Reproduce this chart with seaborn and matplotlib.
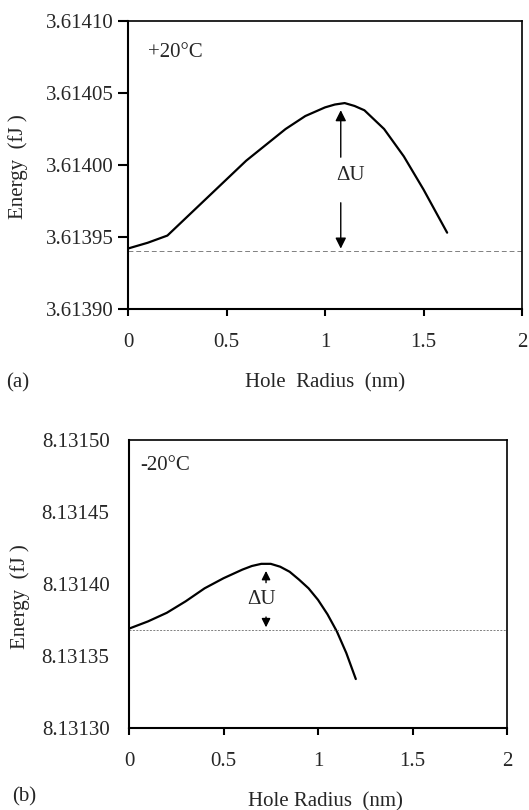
import matplotlib
matplotlib.use("Agg")
import matplotlib.pyplot as plt
import seaborn as sns
import pandas as pd

# top panel (+20 C)
radius_a = [0, 0.1, 0.2, 0.3, 0.4, 0.5, 0.6, 0.7, 0.8, 0.9, 1.0, 1.05, 1.1, 1.15, 1.2,
            1.3, 1.4, 1.5, 1.62]
energy_a = [3.613942, 3.613946, 3.613951, 3.613964, 3.613977, 3.613990, 3.614003, 3.614014,
            3.614025, 3.614034, 3.614040, 3.614042, 3.614043, 3.614041, 3.614038,
            3.614025, 3.614006, 3.613983, 3.613953]
base_a = 3.61394

# bottom panel (-20 C)
radius_b = [0, 0.1, 0.2, 0.3, 0.4, 0.5, 0.6, 0.65, 0.7, 0.75, 0.8, 0.85, 0.9, 0.95,
            1.0, 1.05, 1.1, 1.15, 1.2]
energy_b = [8.131369, 8.131374, 8.131380, 8.131388, 8.131397, 8.131404, 8.131410, 8.1314125,
            8.131414, 8.131414, 8.131412, 8.1314085, 8.131403, 8.131397,
            8.131389, 8.131379, 8.131367, 8.131352, 8.131334]
base_b = 8.131368

xticks = [0, 0.5, 1, 1.5, 2]
xticklabels = ["0", "0.5", "1", "1.5", "2"]
yticks_a = [3.61390, 3.61395, 3.61400, 3.61405, 3.61410]
yticks_b = [8.13130, 8.13135, 8.13140, 8.13145, 8.13150]

sns.set_style("ticks")
plt.rcParams["font.family"] = ["Liberation Serif", "DejaVu Serif"]

fig = plt.figure(figsize=(5.29, 8.10), dpi=100)
W, H = 529, 810

ax1 = fig.add_axes([128 / W, 1 - 309 / H, (522 - 128) / W, 288 / H])
ax2 = fig.add_axes([129 / W, 1 - 728 / H, (507 - 129) / W, 288 / H])

df_a = pd.DataFrame({"r": radius_a, "e": energy_a})
df_b = pd.DataFrame({"r": radius_b, "e": energy_b})
sns.lineplot(x="r", y="e", data=df_a, ax=ax1, color="black", linewidth=1.6)
sns.lineplot(x="r", y="e", data=df_b, ax=ax2, color="black", linewidth=1.6)

ax1.axhline(base_a, color="gray", linestyle=(0, (5, 3)), linewidth=0.7)
ax2.axhline(base_b, color="gray", linestyle=(0, (2, 1.5)), linewidth=0.7)

for ax, yt in [(ax1, yticks_a), (ax2, yticks_b)]:
    ax.set_xlim(0, 2)
    ax.set_ylim(yt[0], yt[-1])
    ax.set_xticks(xticks)
    ax.set_xticklabels(xticklabels)
    ax.set_yticks(yt)
    ax.set_yticklabels(["%.5f" % v for v in yt])
    ax.set_xlabel("")
    ax.set_ylabel("")
    ax.tick_params(axis="both", labelsize=15, color="black", width=1.5)
    ax.tick_params(axis="x", length=5, pad=12)
    for s in ax.spines.values():
        s.set_color("black")
        s.set_linewidth(1.5)
    ax.spines["top"].set_linewidth(1.2)
    ax.spines["right"].set_linewidth(1.2)

ax1.tick_params(axis="y", length=7, pad=3)
ax2.tick_params(axis="y", length=0, pad=14)

# delta U arrows, top
arrow = dict(arrowstyle="-|>", color="black", lw=1.0, mutation_scale=16)
ax1.annotate("", xy=(1.08, 3.614040), xytext=(1.08, 3.6140035), arrowprops=arrow)
ax1.annotate("", xy=(1.08, base_a), xytext=(1.08, 3.6139757), arrowprops=arrow)
ax1.text(1.055, 3.613993, "ΔU", fontsize=15, va="center", ha="left")
ax1.text(0.05, 0.89, "+20°C", transform=ax1.transAxes, fontsize=15, va="center")

# delta U arrows, bottom
arrow_b = dict(arrowstyle="-|>", color="black", lw=1.0, mutation_scale=13)
ax2.annotate("", xy=(0.725, 8.131411), xytext=(0.725, 8.131399), arrowprops=arrow_b)
ax2.annotate("", xy=(0.725, base_b), xytext=(0.725, 8.131379), arrowprops=arrow_b)
ax2.text(0.70, 8.131389, "ΔU", fontsize=15, va="center", ha="center")
ax2.text(0.03, 0.91, "-20°C", transform=ax2.transAxes, fontsize=15, va="center")

# axis titles and panel letters
fig.text(18 / W, 1 - 167 / H, "Energy  (fJ )", rotation=90, fontsize=15, ha="center", va="center")
fig.text(20 / W, 1 - 597 / H, "Energy  (fJ )", rotation=90, fontsize=15, ha="center", va="center")
fig.text(325 / W, 1 - 383 / H, "Hole  Radius  (nm)", fontsize=15, ha="center", va="center")
fig.text(325 / W, 1 - 802 / H, "Hole Radius  (nm)", fontsize=15, ha="center", va="center")
fig.text(6 / W, 1 - 383 / H, "(a)", fontsize=15, ha="left", va="center")
fig.text(12 / W, 1 - 797 / H, "(b)", fontsize=15, ha="left", va="center")

fig.savefig("out.png", dpi=100)
